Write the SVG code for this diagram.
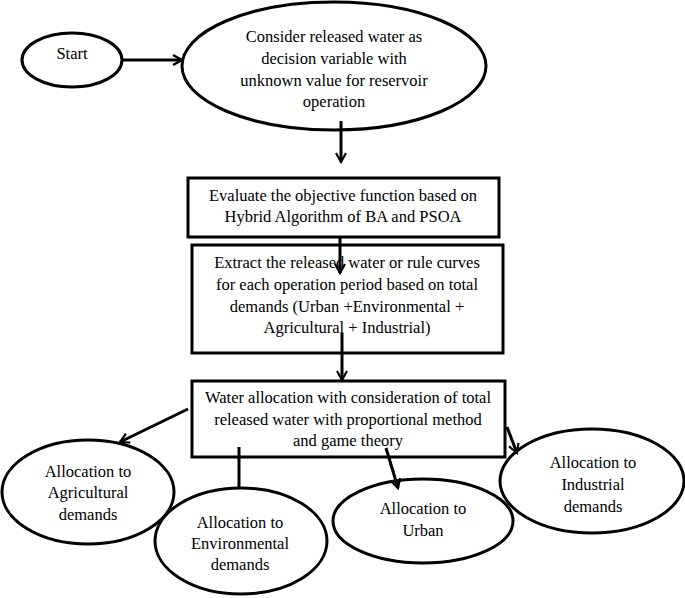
<svg xmlns="http://www.w3.org/2000/svg" width="685" height="598" viewBox="0 0 685 598">
<defs>
<marker id="arr" viewBox="0 0 12 12" refX="10" refY="6" markerWidth="12" markerHeight="12" markerUnits="userSpaceOnUse" orient="auto">
<path d="M1,1 L10,6 L1,11" fill="none" stroke="#000" stroke-width="2.2"/>
</marker>
</defs>
<style>
.n{fill:#fff;stroke:#000;stroke-width:3}
.t{font-family:"Liberation Serif","Times New Roman",serif;font-size:16.5px;fill:#000;text-anchor:middle}
.c{fill:none;stroke:#000;stroke-width:3;marker-end:url(#arr)}
.p{fill:none;stroke:#000;stroke-width:3}
</style>
<rect width="685" height="598" fill="#fff"/>
<g id="start"><ellipse class="n" cx="72" cy="60" rx="50" ry="27"/><text class="t" x="72" y="59">Start</text></g>
<g id="consider"><ellipse class="n" cx="334" cy="66" rx="152" ry="64"/>
<text class="t" x="334" y="42">Consider released water as</text>
<text class="t" x="334" y="64">decision variable with</text>
<text class="t" x="334" y="86">unknown value for reservoir</text>
<text class="t" x="334" y="107">operation</text></g>
<g id="evaluate"><rect class="n" x="188" y="178" width="311" height="59"/>
<text class="t" x="343" y="201">Evaluate the objective function based on</text>
<text class="t" x="343" y="222">Hybrid Algorithm of BA and PSOA</text></g>
<g id="extract"><rect class="n" x="192" y="245" width="311" height="108"/>
<text class="t" x="347" y="268">Extract the released water or rule curves</text>
<text class="t" x="347" y="290">for each operation period based on total</text>
<text class="t" x="347" y="312">demands (Urban +Environmental +</text>
<text class="t" x="347" y="333">Agricultural + Industrial)</text></g>
<g id="allocation"><rect class="n" x="192" y="381" width="313" height="76"/>
<text class="t" x="348" y="403">Water allocation with consideration of total</text>
<text class="t" x="348" y="425">released water with proportional method</text>
<text class="t" x="348" y="446">and game theory</text></g>
<g id="agri"><ellipse class="n" cx="88" cy="492" rx="86" ry="52"/>
<text class="t" x="88" y="477">Allocation to</text>
<text class="t" x="88" y="498">Agricultural</text>
<text class="t" x="88" y="520">demands</text></g>
<g id="env"><ellipse class="n" cx="241" cy="541" rx="86" ry="53"/>
<text class="t" x="240" y="528">Allocation to</text>
<text class="t" x="240" y="549">Environmental</text>
<text class="t" x="240" y="570">demands</text></g>
<g id="urban"><ellipse class="n" cx="423" cy="521" rx="90" ry="42"/>
<text class="t" x="423" y="514">Allocation to</text>
<text class="t" x="423" y="536">Urban</text></g>
<g id="industrial"><ellipse class="n" cx="592" cy="481" rx="92" ry="52"/>
<text class="t" x="593" y="468">Allocation to</text>
<text class="t" x="593" y="490">Industrial</text>
<text class="t" x="593" y="512">demands</text></g>
<g id="connectors">
<line class="c" x1="123" y1="60" x2="182" y2="60"/>
<line class="c" x1="341" y1="121" x2="341" y2="162"/>
<line class="c" x1="340" y1="237" x2="340" y2="273"/>
<line class="c" x1="342" y1="333" x2="342" y2="380"/>
<line class="c" x1="188" y1="409" x2="120" y2="442"/>
<line class="p" x1="239" y1="447" x2="239" y2="488"/>
<line class="c" x1="386" y1="448" x2="398" y2="488"/>
<line class="c" x1="507" y1="427" x2="517" y2="453"/>
</g>
</svg>
